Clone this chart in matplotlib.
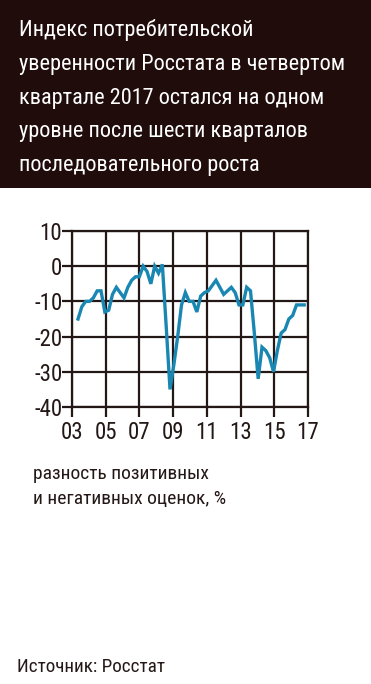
import numpy as np
import matplotlib
matplotlib.use("Agg")
import matplotlib.pyplot as plt
from matplotlib.patches import Rectangle

# consumer confidence index, quarterly, 2003 Q1 .. 2017 Q4
values = [-15, -11.5, -10, -10, -9, -7, -7, -13, -12.5, -8,
          -6, -7.5, -9, -6, -4, -3, -3, 0, -1.5, -5,
          0, -2, 0.5, -17, -35, -28, -20, -11, -7.5, -10,
          -10, -13, -8.5, -7.5, -7, -5.5, -4, -6, -8, -7,
          -6, -7.5, -11, -11, -6, -7, -19, -32, -23, -24,
          -26, -30, -24, -19, -18, -15, -14, -11, -11, -11]
year_labels = ["03", "05", "07", "09", "11", "13", "15", "17"]
y_ticks = [10, 0, -10, -20, -30, -40]

title = ("Индекс потребительской\nуверенности Росстата в четвертом\n"
         "квартале 2017 остался на одном\nуровне после шести кварталов\n"
         "последовательного роста")
subtitle = "разность позитивных\nи негативных оценок, %"
source = "Источник: Росстат"

plt.rcParams["font.family"] = ["Roboto Condensed", "DejaVu Sans"]

W, H = 371, 684
fig = plt.figure(figsize=(W / 100, H / 100), dpi=100)

# dark title band
fig.patches.append(Rectangle((0, 1 - 188 / H), 1, 188 / H, transform=fig.transFigure,
                             facecolor="#1f0c0b", edgecolor="none", zorder=0))
fig.text(19 / W, 1 - 19 / H, title, color="white", fontsize=16,
         va="top", ha="left", linespacing=1.8)

grid_col = "#231815"
ax = fig.add_axes([72 / W, 1 - 407 / H, (308 - 72) / W, (407 - 231) / H])
x = np.arange(len(values))
ax.plot(x, values, color="#1a87b3", lw=2.4, solid_joinstyle="miter", zorder=3)

ax.set_ylim(-40, 10)
ax.set_xlim(-1.57, 60.0)
ax.set_yticks(y_ticks)
ax.set_yticklabels([str(v) for v in y_ticks])
ax.set_xticks(np.linspace(-1.57, 60.0, len(year_labels)))
ax.set_xticklabels(year_labels)
ax.grid(True, color=grid_col, lw=1.6)
for s in ax.spines.values():
    s.set_color(grid_col)
    s.set_linewidth(1.6)
ax.tick_params(length=7, width=1.6, color=grid_col, labelsize=16.5,
               labelcolor="#231815", pad=0)
ax.tick_params(axis="x", pad=3)

fig.text(33 / W, 1 - 465 / H, subtitle, color="#231815", fontsize=14,
         va="top", ha="left", linespacing=1.5)
fig.text(17 / W, 1 - 667 / H, source, color="#231815", fontsize=13.8,
         va="center", ha="left")

fig.savefig("out.png", dpi=100)
